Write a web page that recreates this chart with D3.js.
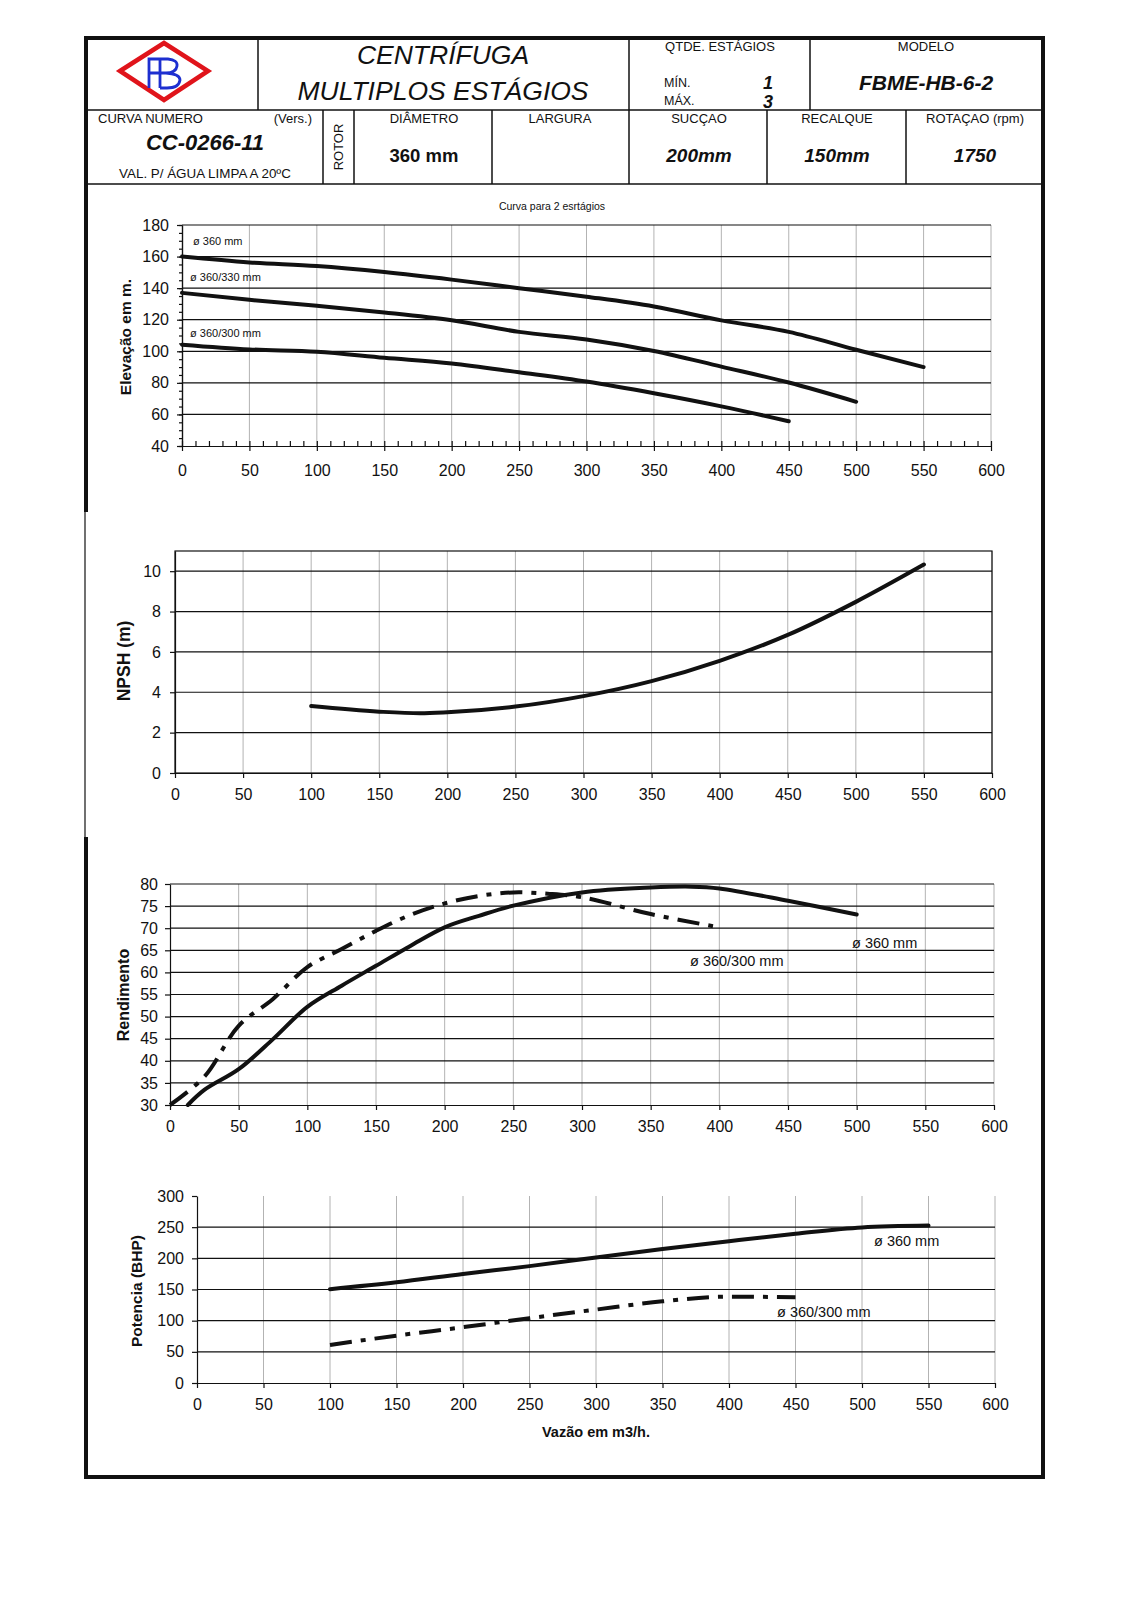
<!DOCTYPE html>
<html lang="pt">
<head>
<meta charset="UTF-8">
<title>CC-0266-11</title>
<style>
  body { margin: 0; background: #fff; }
  svg text { font-family: "Liberation Sans", Arial, sans-serif; fill: #111; }
  .grid-v line { stroke: #a0a0a0; stroke-width: 0.8; }
  .grid-h line { stroke: #111; stroke-width: 1.2; }
  .axis path, .axis line { stroke: #111; stroke-width: 1.2; }
  .axis text { font-size: 16px; }
  .curve { fill: none; stroke: #111; stroke-width: 4; stroke-linecap: round; stroke-linejoin: round; }
  .dashdot { stroke-dasharray: 22 9 5 9; stroke-linecap: butt; }
  .hdr line { stroke: #111; stroke-width: 1.5; }
</style>
</head>
<body>
<script src="https://cdn.jsdelivr.net/npm/d3@7"></script>
<script>
// eixo comum (vazão m3/h)
var xTicks = [0, 50, 100, 150, 200, 250, 300, 350, 400, 450, 500, 550, 600];

// elevação (m) - curva para 2 estágios
var headFlow360 = [0, 50, 100, 150, 200, 250, 300, 350, 400, 450, 500, 550];
var head360     = [160, 156.3, 154, 150.2, 145.4, 140, 134.6, 128.4, 119.6, 112.3, 101, 90];
var headFlow330 = [0, 50, 100, 150, 200, 250, 300, 350, 400, 450, 500];
var head330     = [137, 132.6, 128.8, 124.6, 119.6, 112.3, 107.5, 100.2, 90.3, 80.2, 68];
var headFlow300 = [0, 50, 100, 150, 200, 250, 300, 350, 400, 450];
var head300     = [104.2, 101.2, 99.7, 95.9, 92.3, 86.7, 80.8, 73.4, 65.1, 55.7];
var headTicks   = [40, 60, 80, 100, 120, 140, 160, 180];

// NPSH (m)
var npshFlow  = [100, 150, 180, 200, 250, 300, 350, 400, 450, 500, 550];
var npsh      = [3.32, 3.04, 2.96, 3.01, 3.29, 3.81, 4.55, 5.56, 6.84, 8.48, 10.33];
var npshTicks = [0, 2, 4, 6, 8, 10];

// rendimento (%)
var effFlow360 = [13, 25, 50, 75, 100, 125, 150, 175, 200, 225, 250, 300, 350, 380, 400, 450, 500];
var eff360     = [30, 33.4, 38.1, 44.9, 52.2, 57, 61.5, 66, 70.2, 72.8, 75.1, 78.1, 79.2, 79.4, 79, 76.2, 73.1];
var effFlow300 = [0, 25, 50, 75, 100, 125, 150, 175, 200, 225, 250, 275, 300, 350, 400];
var eff300     = [30, 36.4, 47.9, 54, 61.2, 65.3, 69.4, 73, 75.6, 77.3, 78.1, 77.8, 77, 73.2, 70.2];
var effTicks   = [30, 35, 40, 45, 50, 55, 60, 65, 70, 75, 80];

// potência (BHP)
var powFlow360 = [100, 150, 200, 250, 300, 350, 400, 450, 500, 550];
var pow360     = [150.5, 161.5, 175, 187.5, 201.5, 215, 227.5, 239.4, 249.5, 252.5];
var powFlow300 = [100, 150, 200, 250, 300, 350, 400, 450];
var pow300     = [61, 76, 89.5, 104, 117.8, 131, 138.5, 137.5];
var powTicks   = [0, 50, 100, 150, 200, 250, 300];

var W = 1131, H = 1600;
var svg = d3.select("body").append("svg").attr("width", W).attr("height", H);

// ---------- cabeçalho ----------
var L = 86, R = 1043, T = 38, B = 1477;
var hdr = svg.append("g").attr("class", "hdr");
function hline(x1, y1, x2, y2) {
    hdr.append("line").attr("x1", x1).attr("y1", y1).attr("x2", x2).attr("y2", y2);
}
hline(L, 110, R, 110);
hline(L, 184, R, 184);
hline(258, T, 258, 110);
hline(629, T, 629, 184);
hline(810, T, 810, 110);
[323, 354, 492, 767, 906].forEach(function(xx) { hline(xx, 110, xx, 184); });

function txt(x, y, s, size, opts) {
    opts = opts || {};
    return svg.append("text").attr("x", x).attr("y", y)
        .attr("text-anchor", opts.anchor || "middle")
        .style("font-size", size + "px")
        .style("font-weight", opts.bold ? "bold" : "normal")
        .style("font-style", opts.italic ? "italic" : "normal")
        .text(s);
}
txt(443, 64, "CENTRÍFUGA", 26.5, {italic: true});
txt(443, 100, "MULTIPLOS ESTÁGIOS", 26.5, {italic: true});
txt(720, 51, "QTDE. ESTÁGIOS", 13);
txt(664, 87, "MÍN.", 12.5, {anchor: "start"});
txt(664, 105, "MÁX.", 12.5, {anchor: "start"});
txt(768, 89, "1", 18, {bold: true, italic: true});
txt(768, 108, "3", 18, {bold: true, italic: true});
txt(926, 51, "MODELO", 13);
txt(926, 90, "FBME-HB-6-2", 21, {bold: true, italic: true});

txt(98, 123, "CURVA NUMERO", 13, {anchor: "start"});
txt(312, 123, "(Vers.)", 13, {anchor: "end"});
txt(205, 150, "CC-0266-11", 22, {bold: true, italic: true});
txt(205, 178, "VAL. P/ ÁGUA LIMPA A 20ºC", 13.4);
svg.append("text").attr("transform", "translate(343,147) rotate(-90)")
    .attr("text-anchor", "middle").style("font-size", "13px").text("ROTOR");
txt(424, 123, "DIÂMETRO", 13);
txt(424, 162, "360 mm", 18.5, {bold: true});
txt(560, 123, "LARGURA", 13);
txt(699, 123, "SUCÇAO", 13);
txt(699, 162, "200mm", 19, {bold: true, italic: true});
txt(837, 123, "RECALQUE", 13);
txt(837, 162, "150mm", 19, {bold: true, italic: true});
txt(975, 123, "ROTAÇAO (rpm)", 13);
txt(975, 162, "1750", 19, {bold: true, italic: true});

// logotipo
var logo = svg.append("g");
logo.append("path").attr("d", "M120,71 L164,43 L208,71 L164,100 Z")
    .attr("fill", "none").attr("stroke", "#e0141b").attr("stroke-width", 4.5);
logo.append("path")
    .attr("d", "M166,59 L149,59 L149,88 M149,73 L160,73 M160,88 L160,59 L168,59 Q178,60 177,66 Q176,73 166,73 L160,73 M166,73 Q180,74 180,80 Q179,88 167,88 L160,88")
    .attr("fill", "none").attr("stroke", "#1d2fd0").attr("stroke-width", 2.8);

// borda da página
var border = svg.append("g").attr("stroke", "#111");
border.append("line").attr("x1", L - 2).attr("y1", T).attr("x2", R + 2).attr("y2", T).attr("stroke-width", 4);
border.append("line").attr("x1", R).attr("y1", T).attr("x2", R).attr("y2", B).attr("stroke-width", 4);
border.append("line").attr("x1", L - 2).attr("y1", B).attr("x2", R + 2).attr("y2", B).attr("stroke-width", 4);
border.append("line").attr("x1", L).attr("y1", T).attr("x2", L).attr("y2", 512).attr("stroke-width", 4);
border.append("line").attr("x1", L - 1).attr("y1", 512).attr("x2", L - 1).attr("y2", 837).attr("stroke-width", 1.2);
border.append("line").attr("x1", L).attr("y1", 837).attr("x2", L).attr("y2", B).attr("stroke-width", 4);

// ---------- gráficos ----------
function chart(o) {
    var x = d3.scaleLinear().domain([0, 600]).range([o.left, o.right]);
    var y = d3.scaleLinear().domain(o.yDomain).range([o.bottom, o.top]);
    var g = svg.append("g");

    g.append("g").attr("class", "grid-v").selectAll("line")
        .data(xTicks.slice(1)).enter().append("line")
        .attr("x1", x).attr("x2", x)
        .attr("y1", o.bottom).attr("y2", o.top);

    g.append("g").attr("class", "grid-h").selectAll("line")
        .data(o.hGrid).enter().append("line")
        .attr("x1", o.left).attr("x2", o.right)
        .attr("y1", y).attr("y2", y);

    if (o.frame) {
        g.append("rect").attr("x", o.left).attr("y", o.top)
            .attr("width", o.right - o.left).attr("height", o.bottom - o.top)
            .attr("fill", "none").attr("stroke", "#111").attr("stroke-width", 1.2);
    }

    if (o.minorX) {
        g.append("g").attr("class", "axis").attr("transform", "translate(0," + o.bottom + ")")
            .call(d3.axisBottom(x).tickValues(d3.range(0, 601, 10)).tickSize(-5).tickSizeOuter(0).tickFormat(""));
    }
    if (o.minorY) {
        g.append("g").attr("class", "axis").attr("transform", "translate(" + o.left + ",0)")
            .call(d3.axisLeft(y).tickValues(o.minorY).tickSize(3).tickSizeOuter(0).tickFormat(""));
    }

    g.append("g").attr("class", "axis").attr("transform", "translate(0," + o.bottom + ")")
        .call(d3.axisBottom(x).tickValues(xTicks).tickSize(5).tickSizeOuter(0).tickPadding(o.xPad));
    g.append("g").attr("class", "axis").attr("transform", "translate(" + o.left + ",0)")
        .call(d3.axisLeft(y).tickValues(o.yTicks).tickSize(5).tickSizeOuter(0).tickPadding(o.yPad));

    g.append("text").attr("transform", "translate(" + o.labX + "," + o.labY + ") rotate(-90)")
        .attr("text-anchor", "middle").style("font-size", o.labSize + "px").style("font-weight", "bold")
        .text(o.yLabel);

    var line = d3.line()
        .x(function(d) { return x(d[0]); })
        .y(function(d) { return y(d[1]); })
        .curve(o.curve || d3.curveMonotoneX);

    o.series.forEach(function(s) {
        g.append("path").attr("class", "curve" + (s.dash ? " dashdot" : ""))
            .attr("d", line(d3.zip(s.xs, s.ys)));
    });
    (o.notes || []).forEach(function(n) {
        g.append("text").attr("x", n[0]).attr("y", n[1]).style("font-size", n[3] + "px").text(n[2]);
    });
    return g;
}

svg.append("text").attr("x", 552).attr("y", 210).attr("text-anchor", "middle")
    .style("font-size", "10.5px").text("Curva para 2 esrtágios");

chart({
    left: 182, right: 991, top: 225, bottom: 446,
    yDomain: [40, 180], yTicks: headTicks, hGrid: headTicks.slice(1),
    minorX: true, minorY: d3.range(40, 181, 5),
    xPad: 14, yPad: 8,
    labX: 131, labY: 337, labSize: 15.5, yLabel: "Elevação em m.",
    series: [
        {xs: headFlow360, ys: head360},
        {xs: headFlow330, ys: head330},
        {xs: headFlow300, ys: head300}
    ],
    notes: [[193, 245, "ø 360 mm", 11], [190, 281, "ø 360/330 mm", 11], [190, 337, "ø 360/300 mm", 11]]
});

chart({
    left: 175, right: 992, top: 551, bottom: 773,
    yDomain: [0, 11], yTicks: npshTicks, hGrid: npshTicks.slice(1),
    frame: true, xPad: 11, yPad: 9,
    labX: 130, labY: 661, labSize: 17.5, yLabel: "NPSH (m)",
    series: [{xs: npshFlow, ys: npsh}]
});

chart({
    left: 170, right: 994, top: 884, bottom: 1105,
    yDomain: [30, 80], yTicks: effTicks, hGrid: effTicks.slice(1),
    xPad: 11, yPad: 7,
    labX: 129, labY: 995, labSize: 16, yLabel: "Rendimento",
    curve: d3.curveCatmullRom.alpha(0.5),
    series: [
        {xs: effFlow360, ys: eff360},
        {xs: effFlow300, ys: eff300, dash: true}
    ],
    notes: [[852, 948, "ø 360 mm", 14.5], [690, 966, "ø 360/300 mm", 14.5]]
});

chart({
    left: 197, right: 995, top: 1196, bottom: 1383,
    yDomain: [0, 300], yTicks: powTicks, hGrid: [50, 100, 150, 200, 250],
    xPad: 11, yPad: 8,
    labX: 142, labY: 1291, labSize: 15.5, yLabel: "Potencia (BHP)",
    series: [
        {xs: powFlow360, ys: pow360},
        {xs: powFlow300, ys: pow300, dash: true}
    ],
    notes: [[874, 1246, "ø 360 mm", 14.5], [777, 1317, "ø 360/300 mm", 14.5]]
});

svg.append("text").attr("x", 596).attr("y", 1437).attr("text-anchor", "middle")
    .style("font-size", "14.5px").style("font-weight", "bold").text("Vazão em m3/h.");
</script>
</body>
</html>
